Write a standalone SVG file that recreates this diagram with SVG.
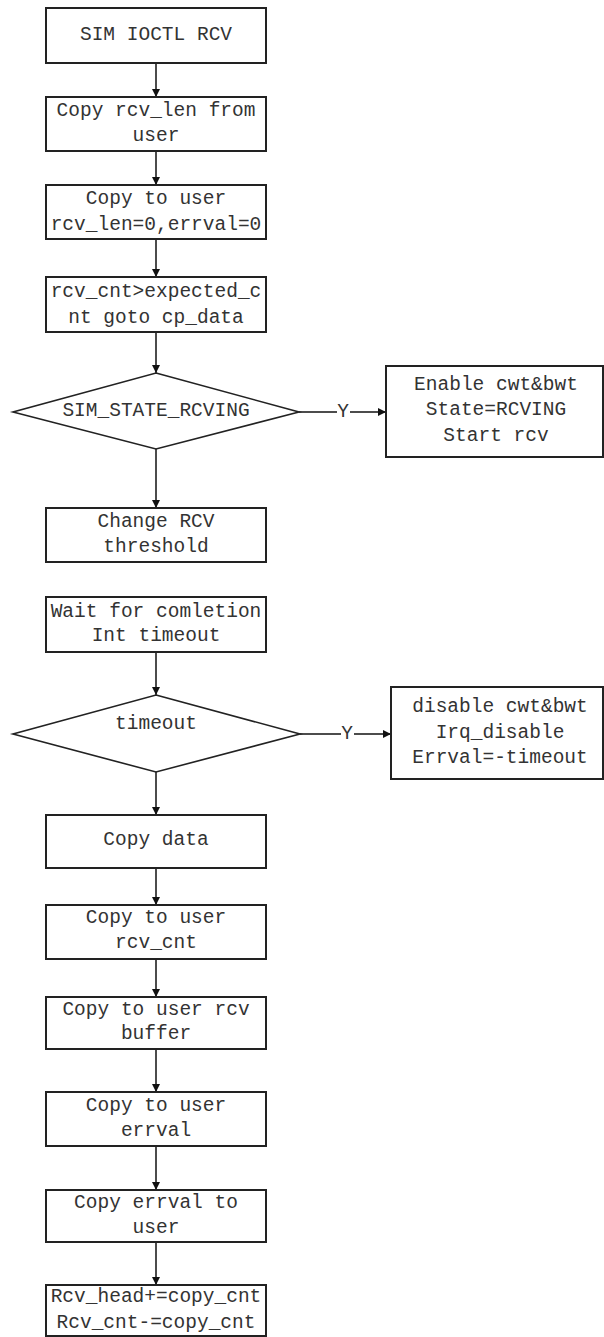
<svg xmlns="http://www.w3.org/2000/svg" width="604" height="1337" viewBox="0 0 604 1337">
<style>
.box{fill:#fff;stroke:#222;stroke-width:2}
.dia{fill:#fff;stroke:#222;stroke-width:1.6}
.t{font-family:"Liberation Mono",monospace;font-size:19.5px;fill:#333;text-anchor:middle;dominant-baseline:central}
.c{stroke:#111;stroke-width:1.5;fill:none}
</style>
<defs>
<marker id="ah" viewBox="0 0 8 8" refX="8" refY="4" markerWidth="8" markerHeight="8" markerUnits="userSpaceOnUse" orient="auto">
<path d="M0,0 L8,4 L0,8 z" fill="#111"/>
</marker>
</defs>
<rect width="604" height="1337" fill="#fff"/>
<g id="connectors">
<line class="c" x1="156" y1="63" x2="156" y2="97" marker-end="url(#ah)"/>
<line class="c" x1="156" y1="151" x2="156" y2="185" marker-end="url(#ah)"/>
<line class="c" x1="156" y1="239" x2="156" y2="277" marker-end="url(#ah)"/>
<line class="c" x1="156" y1="332" x2="156" y2="373" marker-end="url(#ah)"/>
<line class="c" x1="156" y1="449" x2="156" y2="508" marker-end="url(#ah)"/>
<line class="c" x1="156" y1="652" x2="156" y2="695" marker-end="url(#ah)"/>
<line class="c" x1="156" y1="772" x2="156" y2="815" marker-end="url(#ah)"/>
<line class="c" x1="156" y1="868" x2="156" y2="905" marker-end="url(#ah)"/>
<line class="c" x1="156" y1="959" x2="156" y2="997" marker-end="url(#ah)"/>
<line class="c" x1="156" y1="1049" x2="156" y2="1092" marker-end="url(#ah)"/>
<line class="c" x1="156" y1="1146" x2="156" y2="1190" marker-end="url(#ah)"/>
<line class="c" x1="156" y1="1242" x2="156" y2="1285" marker-end="url(#ah)"/>
<line class="c" x1="299" y1="412" x2="337" y2="412"/>
<line class="c" x1="350" y1="412" x2="386" y2="412" marker-end="url(#ah)"/>
<text class="t" x="343" y="412">Y</text>
<line class="c" x1="300" y1="734" x2="341" y2="734"/>
<line class="c" x1="354" y1="734" x2="391" y2="734" marker-end="url(#ah)"/>
<text class="t" x="347" y="734">Y</text>
</g>
<g id="n1"><rect class="box" x="46" y="8" width="220" height="55"/><text class="t" x="156" y="35">SIM IOCTL RCV</text></g>
<g id="n2"><rect class="box" x="46" y="97" width="220" height="54"/><text class="t" x="156" y="111">Copy rcv_len from</text><text class="t" x="156" y="136">user</text></g>
<g id="n3"><rect class="box" x="46" y="185" width="220" height="54"/><text class="t" x="156" y="199">Copy to user</text><text class="t" x="156" y="225">rcv_len=0,errval=0</text></g>
<g id="n4"><rect class="box" x="46" y="277" width="220" height="55"/><text class="t" x="156" y="292">rcv_cnt&gt;expected_c</text><text class="t" x="156" y="318">nt goto cp_data</text></g>
<g id="d1"><polygon class="dia" points="156,373 299,412 156,449 13,412"/><text class="t" x="156" y="411">SIM_STATE_RCVING</text></g>
<g id="r1"><rect class="box" x="386" y="366" width="217" height="91"/><text class="t" x="496" y="385">Enable cwt&amp;bwt</text><text class="t" x="496" y="410">State=RCVING</text><text class="t" x="496" y="436">Start rcv</text></g>
<g id="n5"><rect class="box" x="46" y="508" width="220" height="54"/><text class="t" x="156" y="522">Change RCV</text><text class="t" x="156" y="547">threshold</text></g>
<g id="n6"><rect class="box" x="46" y="597" width="220" height="55"/><text class="t" x="156" y="612">Wait for comletion</text><text class="t" x="156" y="636">Int timeout</text></g>
<g id="d2"><polygon class="dia" points="156,695 300,734 156,772 13,734"/><text class="t" x="156" y="724">timeout</text></g>
<g id="r2"><rect class="box" x="391" y="687" width="212" height="92"/><text class="t" x="500" y="707">disable cwt&amp;bwt</text><text class="t" x="500" y="733">Irq_disable</text><text class="t" x="500" y="758">Errval=-timeout</text></g>
<g id="n7"><rect class="box" x="46" y="815" width="220" height="53"/><text class="t" x="156" y="840">Copy data</text></g>
<g id="n8"><rect class="box" x="46" y="905" width="220" height="54"/><text class="t" x="156" y="918">Copy to user</text><text class="t" x="156" y="943">rcv_cnt</text></g>
<g id="n9"><rect class="box" x="46" y="997" width="220" height="52"/><text class="t" x="156" y="1010">Copy to user rcv</text><text class="t" x="156" y="1034">buffer</text></g>
<g id="n10"><rect class="box" x="46" y="1092" width="220" height="54"/><text class="t" x="156" y="1106">Copy to user</text><text class="t" x="156" y="1131">errval</text></g>
<g id="n11"><rect class="box" x="46" y="1190" width="220" height="52"/><text class="t" x="156" y="1203">Copy errval to</text><text class="t" x="156" y="1228">user</text></g>
<g id="n12"><rect class="box" x="46" y="1285" width="220" height="51"/><text class="t" x="156" y="1297">Rcv_head+=copy_cnt</text><text class="t" x="156" y="1323">Rcv_cnt-=copy_cnt</text></g>
</svg>
